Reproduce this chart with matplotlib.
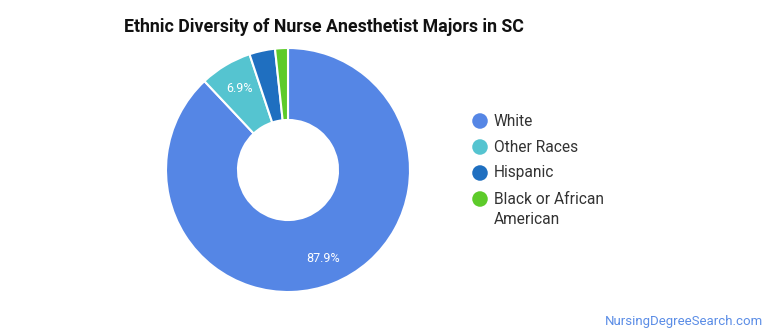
import matplotlib
matplotlib.use("Agg")
import matplotlib.pyplot as plt

categories = ["White", "Other Races", "Hispanic", "Black or African\nAmerican"]
values = [87.9, 6.9, 3.4, 1.7]
colors = ["#5586e5", "#55c4d0", "#1f6fc0", "#5dcb2a"]
title = "Ethnic Diversity of Nurse Anesthetist Majors in SC"
watermark = "NursingDegreeSearch.com"

plt.rcParams['font.family'] = ['Roboto', 'DejaVu Sans']

W, H = 770, 335
fig = plt.figure(figsize=(W / 100, H / 100), dpi=100)

cx, cy, R = 288, 170, 122
ax = fig.add_axes([(cx - R) / W, (H - cy - R) / H, 2 * R / W, 2 * R / H])

wedges, _ = ax.pie(
    values, colors=colors, startangle=90, counterclock=False,
    radius=1.0,
    wedgeprops=dict(width=0.59, edgecolor="white", linewidth=1.5))
import numpy as np
for w, v in zip(wedges, values):
    if v >= 5:
        ang = np.deg2rad((w.theta1 + w.theta2) / 2)
        ax.text(0.78 * np.cos(ang), 0.78 * np.sin(ang), f"{v:.1f}%",
                color="white", fontsize=9, ha="center", va="center")
ax.set_xlim(-1, 1)
ax.set_ylim(-1, 1)
ax.set_aspect("equal")
ax.axis("off")

ov = fig.add_axes([0, 0, 1, 1])
ov.set_xlim(0, W)
ov.set_ylim(H, 0)
ov.axis("off")

ov.text(124, 27, title, fontsize=12.8, fontweight="bold", color="#111111",
        va="center", ha="left")

legend_y = [121, 147, 173, 199]
for lab, col, y in zip(categories, colors, legend_y):
    ov.scatter([480], [y], s=125, color=col, edgecolors="none")
    lines = lab.split("\n")
    for i, line in enumerate(lines):
        ov.text(494, y + 21 * i, line, fontsize=11.2, color="#333333",
                va="center", ha="left")

ov.text(763, 321, watermark, fontsize=9.5, color="#5b8de6", ha="right", va="center")

fig.savefig("out.png", dpi=100, facecolor="white")
